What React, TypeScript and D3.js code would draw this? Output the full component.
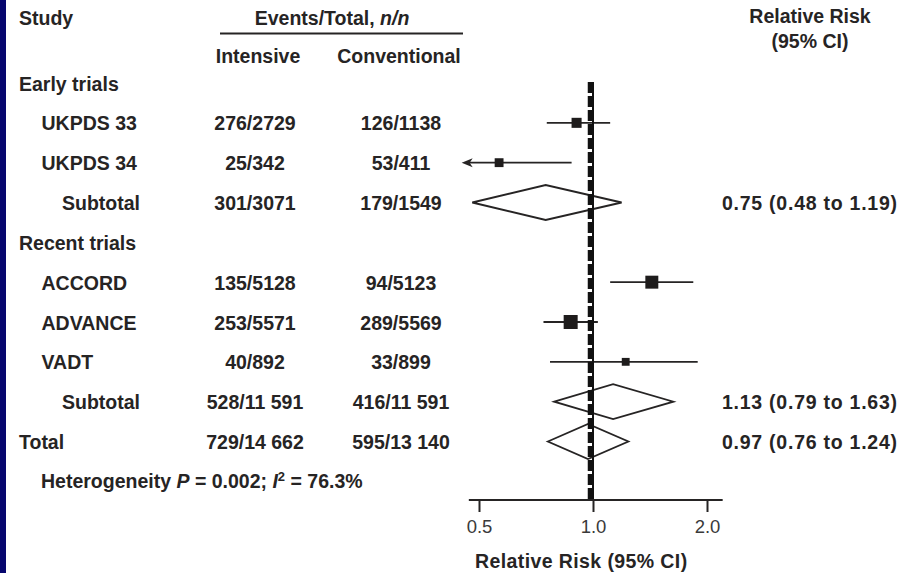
import React, { useRef, useEffect } from "react";
import { select, scaleLog, scalePoint, scaleSqrt, axisBottom, format, max } from "d3";

// rows of the forest plot, top to bottom
const rowLabels = ["Early trials", "UKPDS 33", "UKPDS 34", "Subtotal", "Recent trials", "ACCORD", "ADVANCE", "VADT", "Subtotal", "Total"];
const rowKinds = ["group", "study", "study", "subtotal", "group", "study", "study", "study", "subtotal", "total"];
const intensiveEvents = ["", "276/2729", "25/342", "301/3071", "", "135/5128", "253/5571", "40/892", "528/11 591", "729/14 662"];
const conventionalEvents = ["", "126/1138", "53/411", "179/1549", "", "94/5123", "289/5569", "33/899", "416/11 591", "595/13 140"];
const relRisk = [null, 0.905, 0.565, 0.75, null, 1.43, 0.873, 1.22, 1.13, 0.97];
const ciLower = [null, 0.755, 0.33, 0.48, null, 1.11, 0.74, 0.77, 0.79, 0.76];
const ciUpper = [null, 1.11, 0.878, 1.19, null, 1.84, 1.03, 1.89, 1.63, 1.24];
const weights = [null, 18, 14, null, null, 30, 35, 11, null, null];
const rrText = ["", "", "", "0.75 (0.48 to 1.19)", "", "", "", "", "1.13 (0.79 to 1.63)", "0.97 (0.76 to 1.24)"];
const xTicks = [0.5, 1.0, 2.0];

const App = () => {
  const ref = useRef<HTMLDivElement>(null);

  useEffect(() => {
    if (!ref.current) return;
    document.body.style.margin = "0";
    const width = 910;
    const height = 573;
    const ink = "#262424";
    const font = "'Liberation Sans', Arial, sans-serif";

    select(ref.current).selectAll("*").remove();
    const svg = select(ref.current)
      .append("svg")
      .attr("width", width)
      .attr("height", height)
      .attr("font-family", font)
      .style("display", "block")
      .style("background", "#fff");

    // navy strip on the left edge
    svg.append("rect").attr("x", 0).attr("y", 0).attr("width", 6).attr("height", height).attr("fill", "#06066e");

    const x = scaleLog().domain([0.5, 2]).range([479, 707]);
    const xMin = 0.45;
    const axisY = 500;

    const rows = rowLabels.map((label, i) => ({
      i,
      label,
      kind: rowKinds[i],
      int: intensiveEvents[i],
      conv: conventionalEvents[i],
      rr: relRisk[i],
      lo: ciLower[i],
      hi: ciUpper[i],
      w: weights[i],
      txt: rrText[i],
    }));

    const y = scalePoint<number>().domain(rows.map((d) => d.i)).range([90.5, 449]);
    const size = scaleSqrt().domain([0, max(weights, (d) => d ?? 0) as number]).range([0, 14]);

    const text = (g, xx, yy, s, anchor = "start", size = 19.5, weight = "bold") =>
      g.append("text")
        .attr("x", xx)
        .attr("y", yy)
        .attr("text-anchor", anchor)
        .attr("font-size", size)
        .attr("font-weight", weight)
        .attr("fill", ink)
        .text(s);

    // headers
    text(svg, 19, 25, "Study");
    const ev = text(svg, 332, 25, "Events/Total, ", "middle");
    ev.append("tspan").attr("font-style", "italic").text("n/n");
    svg.append("line").attr("x1", 220).attr("x2", 463).attr("y1", 33.5).attr("y2", 33.5).attr("stroke", ink).attr("stroke-width", 2);
    text(svg, 258, 63, "Intensive", "middle");
    text(svg, 399, 63, "Conventional", "middle");
    text(svg, 810, 23, "Relative Risk", "middle");
    text(svg, 810, 48, "(95% CI)", "middle");

    // table columns
    const indent = { group: 19, study: 41.5, subtotal: 62, total: 19 };
    const tbl = svg.append("g");
    rows.forEach((d) => {
      text(tbl, indent[d.kind], y(d.i), d.label);
      if (d.int) text(tbl, 255, y(d.i), d.int, "middle");
      if (d.conv) text(tbl, 401, y(d.i), d.conv, "middle");
      if (d.txt) text(tbl, 722, y(d.i), d.txt).attr("letter-spacing", 0.75);
    });

    const het = text(svg, 41, 488, "Heterogeneity ");
    het.append("tspan").attr("font-style", "italic").text("P");
    het.append("tspan").text(" = 0.002; ");
    het.append("tspan").attr("font-style", "italic").text("I");
    het.append("tspan").attr("font-size", 13).attr("dy", -7).text("2");
    het.append("tspan").attr("dy", 7).text(" = 76.3%");

    const plot = svg.append("g");
    const cy = (d) => y(d.i) - 7.5;

    // diamonds for pooled estimates
    plot.selectAll("path.diamond")
      .data(rows.filter((d) => d.kind === "subtotal" || d.kind === "total"))
      .join("path")
      .attr("class", "diamond")
      .attr("d", (d) => `M${x(d.lo)},${cy(d)}L${x(d.rr)},${cy(d) - 17.5}L${x(d.hi)},${cy(d)}L${x(d.rr)},${cy(d) + 17.5}Z`)
      .attr("fill", "none")
      .attr("stroke", ink)
      .attr("stroke-width", 1.8);

    const studies = rows.filter((d) => d.kind === "study");

    // confidence intervals
    plot.selectAll("line.ci")
      .data(studies)
      .join("line")
      .attr("class", "ci")
      .attr("x1", (d) => x(Math.max(d.lo, xMin)) + (d.lo < xMin ? 6 : 0))
      .attr("x2", (d) => x(d.hi))
      .attr("y1", cy)
      .attr("y2", cy)
      .attr("stroke", ink)
      .attr("stroke-width", 1.8);

    // arrow where the interval runs off the scale
    plot.selectAll("path.arrow")
      .data(studies.filter((d) => d.lo < xMin))
      .join("path")
      .attr("class", "arrow")
      .attr("d", (d) => {
        const x0 = x(xMin);
        const c = cy(d);
        return `M${x0},${c}L${x0 + 11},${c - 4.5}L${x0 + 8},${c}L${x0 + 11},${c + 4.5}Z`;
      })
      .attr("fill", ink);

    // reference line at 1.0
    plot.append("line")
      .attr("x1", x(1) - 3).attr("x2", x(1) - 3)
      .attr("y1", 82).attr("y2", axisY)
      .attr("stroke", "#111").attr("stroke-width", 4.5)
      .attr("stroke-dasharray", "11 3");
    plot.append("line")
      .attr("x1", x(1)).attr("x2", x(1))
      .attr("y1", 82).attr("y2", axisY)
      .attr("stroke", "#111").attr("stroke-width", 2);

    // study squares
    plot.selectAll("rect.pt")
      .data(studies)
      .join("rect")
      .attr("class", "pt")
      .attr("x", (d) => x(d.rr) - size(d.w) / 2)
      .attr("y", (d) => cy(d) - size(d.w) / 2)
      .attr("width", (d) => size(d.w))
      .attr("height", (d) => size(d.w))
      .attr("fill", "#1e1c1c");

    // x axis
    const gx = svg.append("g")
      .attr("transform", `translate(0,${axisY})`)
      .call(axisBottom(x).tickValues(xTicks).tickFormat(format(".1f")).tickSize(12).tickPadding(8));
    gx.select(".domain").remove();
    gx.append("line").attr("x1", x(0.47)).attr("x2", x(2.2)).attr("stroke", ink).attr("stroke-width", 2);
    gx.selectAll(".tick line").attr("stroke", ink).attr("stroke-width", 2);
    gx.selectAll(".tick text")
      .attr("font-family", font)
      .attr("font-size", 18.5)
      .attr("fill", "#3a3a3a");

    text(svg, 475, 568, "Relative Risk (95% CI)").attr("letter-spacing", 0.4);
  }, []);

  return <div ref={ref}></div>;
};

export default App;
